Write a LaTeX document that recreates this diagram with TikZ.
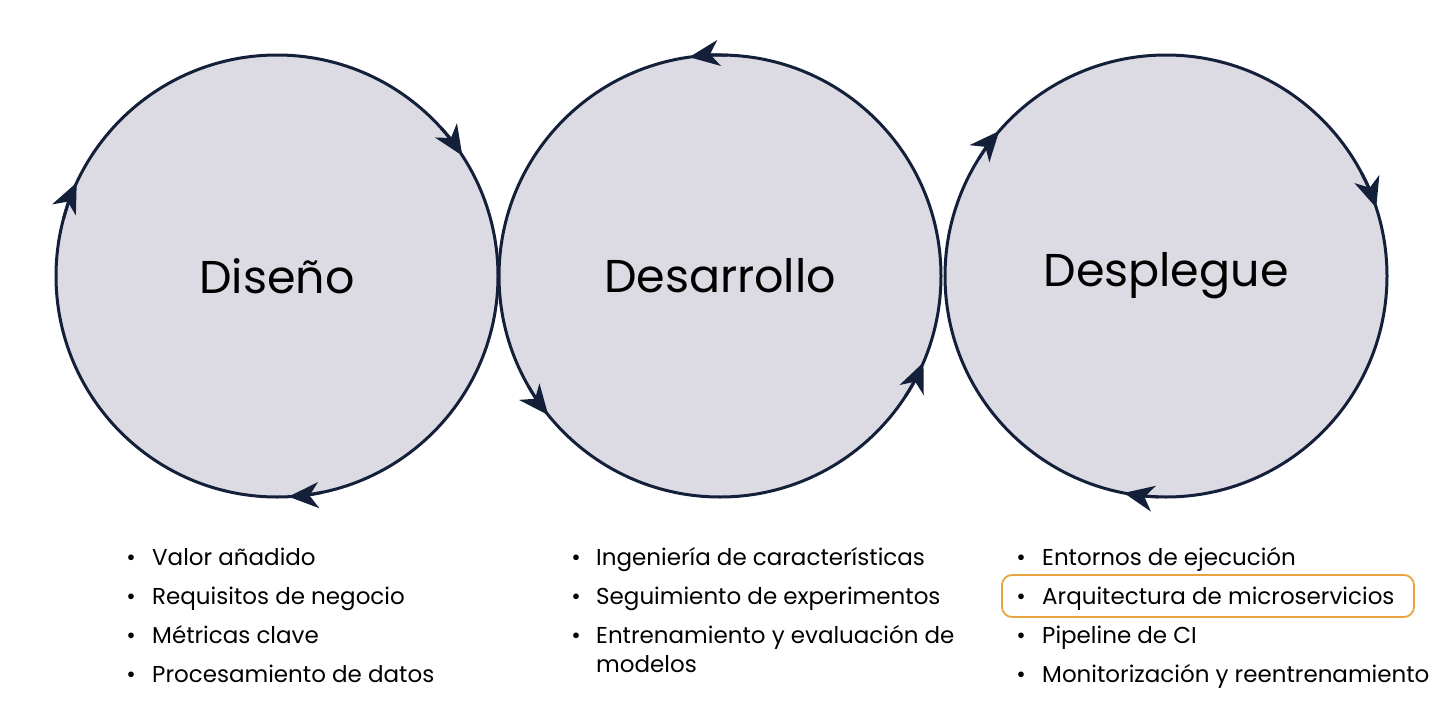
\documentclass[tikz,border=0pt]{standalone}
\usepackage{fontspec}
\setmainfont{Poppins}
\usetikzlibrary{arrows.meta}
\definecolor{navy}{HTML}{14203A}
\definecolor{cfill}{HTML}{DCDBE3}
\definecolor{hl}{HTML}{E8A33D}
\begin{document}
\begin{tikzpicture}[x=1pt,y=1pt,
  ring/.style={draw=navy,fill=cfill,line width=3pt},
  tip/.style={draw=navy,line width=3pt,-{Stealth[length=30pt,width=26pt,inset=9pt]}},
  ttl/.style={font=\fontsize{46}{50}\selectfont,text=black},
  itm/.style={anchor=base west,font=\fontsize{23}{30}\selectfont,text=black,inner sep=0pt},
  bul/.style={anchor=base,font=\fontsize{23}{30}\selectfont,text=black,inner sep=0pt}]
\useasboundingbox (0,0) rectangle (1440,-720);
\def\R{221}
\coordinate (A) at (277,-276);
\coordinate (B) at (720,-276);
\coordinate (C) at (1166,-276);
\draw[ring] (A) circle (\R);
\draw[ring] (B) circle (\R);
\draw[ring] (C) circle (\R);
% left circle (clockwise)
\draw[tip] (A) ++(42:\R) arc (42:33:\R);
\draw[tip] (A) ++(-78:\R) arc (-78:-87:\R);
\draw[tip] (A) ++(165:\R) arc (165:155:\R);
% middle circle (counter-clockwise)
\draw[tip] (B) ++(88:\R) arc (88:98:\R);
\draw[tip] (B) ++(210:\R) arc (210:219:\R);
\draw[tip] (B) ++(-33:\R) arc (-33:-23:\R);
% right circle (clockwise)
\draw[tip] (C) ++(148:\R) arc (148:139:\R);
\draw[tip] (C) ++(28:\R) arc (28:18:\R);
\draw[tip] (C) ++(-92:\R) arc (-92:-101:\R);
\node[ttl] (ta) at (A) {Diseño};
\node[ttl] (tb) at (B) {Desarrollo};
\node[ttl] (tc) at (C) {Desplegue};
% lists
\foreach \y/\t [count=\i] in {-565/Valor añadido,-604/Requisitos de negocio,-643/Métricas clave,-682/Procesamiento de datos}{
  \node[bul] (ba\i) at (131,\y) {•};
  \node[itm] (la\i) at (152,\y) {\t};}
\foreach \y/\t [count=\i] in {-565/Ingeniería de características,-604/Seguimiento de experimentos,-643/Entrenamiento y evaluación de}{
  \node[bul] (bb\i) at (576,\y) {•};
  \node[itm] (lb\i) at (596,\y) {\t};}
\node[itm] (lb4) at (596,-672) {modelos};
\foreach \y/\t [count=\i] in {-565/Entornos de ejecución,-604/Arquitectura de microservicios,-643/Pipeline de CI/CD,-682/Monitorización y reentrenamiento}{
  \node[bul] (bc\i) at (1021,\y) {•};
  \node[itm] (lc\i) at (1042,\y) {\t};}
\draw[hl,line width=1.8pt,rounded corners=10pt] (1002,-575) rectangle (1414,-617);
\end{tikzpicture}
\end{document}
